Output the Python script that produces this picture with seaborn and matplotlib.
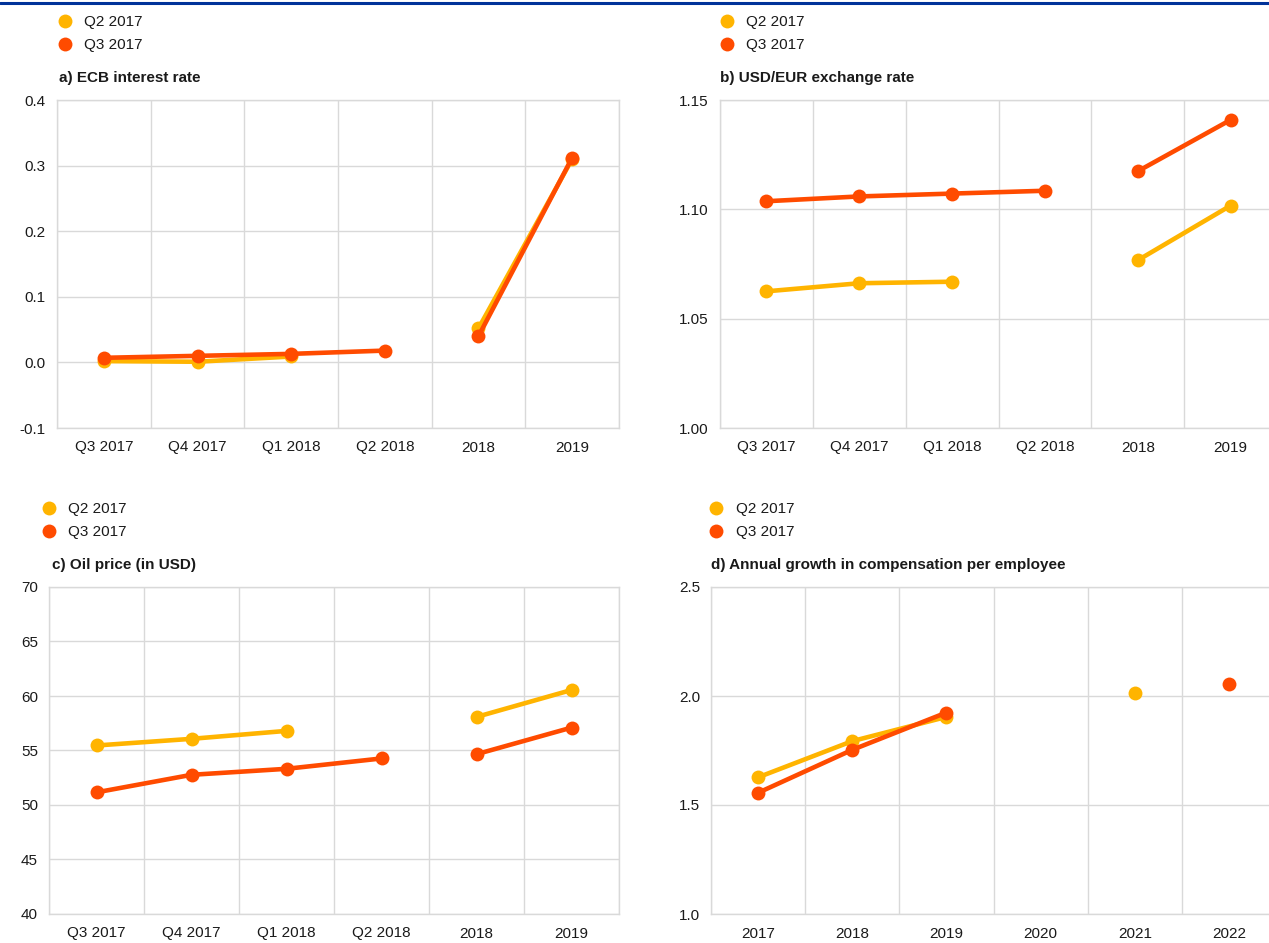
import numpy as np
import pandas as pd
import matplotlib
matplotlib.use("Agg")
import matplotlib.pyplot as plt
from matplotlib.lines import Line2D
from matplotlib.ticker import FuncFormatter, FixedLocator
import seaborn as sns

sns.set_theme(style="white")
plt.rcParams["font.family"] = ["Liberation Sans", "DejaVu Sans"]
plt.rcParams["axes.unicode_minus"] = False

nan = np.nan
vintages = ["Q2 2017", "Q3 2017"]
colors = {"Q2 2017": "#FFB400", "Q3 2017": "#FF4B00"}

# a) ECB interest rate
a_cats = ["Q3 2017", "Q4 2017", "Q1 2018", "Q2 2018", "2018", "2019"]
a_seg = [0, 0, 0, 0, 1, 1]
a_q2 = [0.002, 0.001, 0.009, nan, 0.052, 0.310]
a_q3 = [0.007, 0.010, 0.013, 0.018, 0.040, 0.312]
a_ticks = [-0.1, 0.0, 0.1, 0.2, 0.3, 0.4]

# b) USD/EUR exchange rate
b_cats = ["Q3 2017", "Q4 2017", "Q1 2018", "Q2 2018", "2018", "2019"]
b_seg = [0, 0, 0, 0, 1, 1]
b_q2 = [1.0625, 1.0662, 1.0669, nan, 1.0767, 1.1017]
b_q3 = [1.1037, 1.1059, 1.1072, 1.1085, 1.1174, 1.1409]
b_ticks = [1.00, 1.05, 1.10, 1.15]

# c) Oil price (in USD)
c_cats = ["Q3 2017", "Q4 2017", "Q1 2018", "Q2 2018", "2018", "2019"]
c_seg = [0, 0, 0, 0, 1, 1]
c_q2 = [55.46, 56.07, 56.80, nan, 58.08, 60.55]
c_q3 = [51.16, 52.77, 53.32, 54.27, 54.66, 57.10]
c_ticks = [40, 45, 50, 55, 60, 65, 70]

# d) Annual growth in compensation per employee
d_cats = ["2017", "2018", "2019", "2020", "2021", "2022"]
d_seg = [0, 0, 0, 1, 2, 3]
d_q2 = [1.627, 1.793, 1.904, nan, 2.015, nan]
d_q3 = [1.556, 1.753, 1.924, nan, nan, 2.053]
d_ticks = [1.0, 1.5, 2.0, 2.5]

panels = [
    ("a) ECB interest rate", a_cats, a_seg, a_q2, a_q3, a_ticks, "{:.1f}"),
    ("b) USD/EUR exchange rate", b_cats, b_seg, b_q2, b_q3, b_ticks, "{:.2f}"),
    ("c) Oil price (in USD)", c_cats, c_seg, c_q2, c_q3, c_ticks, "{:.0f}"),
    ("d) Annual growth in compensation per employee", d_cats, d_seg, d_q2, d_q3, d_ticks, "{:.1f}"),
]

W, H = 1269, 943
fig = plt.figure(figsize=(W / 100, H / 100), dpi=100)

# pixel boxes: left, right, top, bottom
boxes = [(57, 619, 100, 428), (720, 1277, 100, 428), (49, 619, 587, 914), (711, 1276, 587, 914)]
legend_pos = [(57, 15), (719, 15), (41, 502), (708, 502)]
title_pos = [(59, 78), (720, 78), (52, 565), (711, 565)]

grid_c = "#d9d9d9"
txt_c = "#1a1a1a"

for (title, cats, seg, q2, q3, ticks, fmt), (l, r, t, b), (lx, ly), (tx, ty) in zip(
        panels, boxes, legend_pos, title_pos):
    ax = fig.add_axes([l / W, 1 - b / H, (r - l) / W, (b - t) / H])
    pos = np.arange(len(cats))
    df = pd.concat([
        pd.DataFrame({"x": pos, "y": q2, "seg": seg, "vintage": "Q2 2017"}),
        pd.DataFrame({"x": pos, "y": q3, "seg": seg, "vintage": "Q3 2017"}),
    ]).dropna()
    sns.lineplot(data=df, x="x", y="y", hue="vintage", units="seg", estimator=None,
                 hue_order=vintages, palette=colors, marker="o", markersize=10,
                 markeredgewidth=0, linewidth=3.3, legend=False, ax=ax, sort=True)
    ax.set_xlim(-0.5, len(cats) - 0.5)
    ax.set_ylim(ticks[0], ticks[-1])
    ax.yaxis.set_major_locator(FixedLocator(ticks))
    ax.yaxis.set_major_formatter(FuncFormatter(lambda v, p, f=fmt: f.format(v)))
    ax.set_xticks(pos)
    ax.set_xticklabels(cats)
    ax.set_xticks(np.arange(len(cats) + 1) - 0.5, minor=True)
    ax.grid(True, axis="y", which="major", color=grid_c, linewidth=1)
    ax.grid(True, axis="x", which="minor", color=grid_c, linewidth=1)
    ax.grid(False, axis="x", which="major")
    ax.set_axisbelow(True)
    for s in ax.spines.values():
        s.set_color(grid_c)
        s.set_linewidth(1)
    ax.tick_params(axis="both", which="both", length=0, labelsize=11, colors=txt_c)
    ax.tick_params(axis="x", pad=9)
    ax.tick_params(axis="y", pad=8)
    ax.set_xlabel("")
    ax.set_ylabel("")

    handles = [Line2D([], [], marker="o", linestyle="", markersize=10, markeredgewidth=0,
                      color=colors[v]) for v in vintages]
    fig.legend(handles, vintages, loc="upper left", bbox_to_anchor=(lx / W, 1 - ly / H),
               frameon=False, fontsize=11, borderpad=0, borderaxespad=0, handlelength=1.0,
               handletextpad=0.8, labelspacing=0.58, labelcolor=txt_c)
    fig.text(tx / W, 1 - ty / H, title, fontsize=11, fontweight="bold", color=txt_c,
             ha="left", va="center")

# top blue rule
fig.add_artist(Line2D([0, 1], [1 - 3 / H, 1 - 3 / H], color="#003299", linewidth=2.2,
                      transform=fig.transFigure))

fig.savefig("out.png", dpi=100)
